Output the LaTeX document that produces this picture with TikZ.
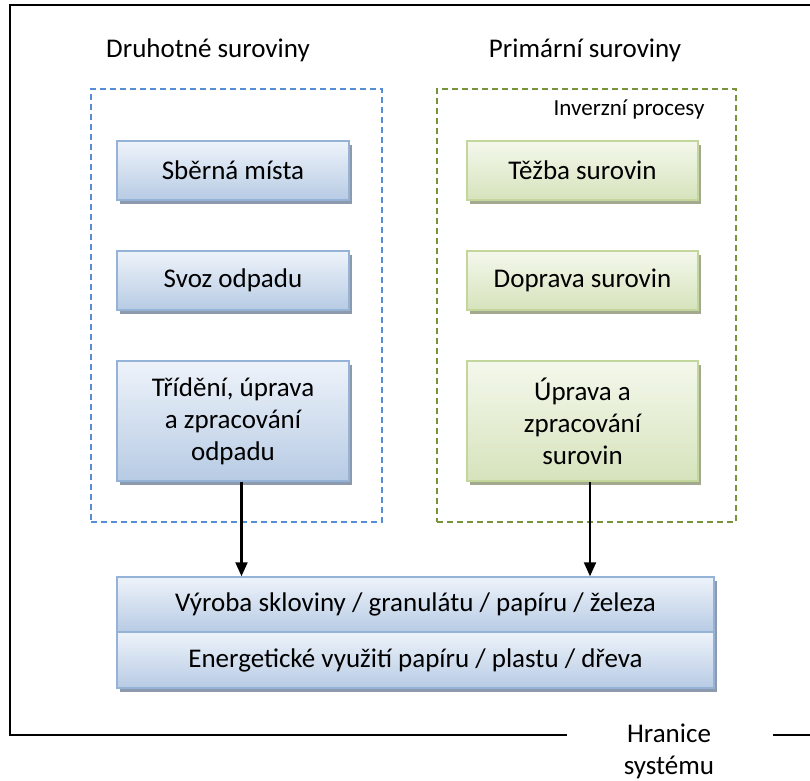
\documentclass[tikz,border=0pt]{standalone}
\usepackage{fontspec}
\setmainfont{Carlito}
\usetikzlibrary{arrows.meta,shadows}
\definecolor{bluetop}{HTML}{EEF3FA}
\definecolor{bluebot}{HTML}{B7CBE4}
\definecolor{blueedge}{HTML}{95B3D7}
\definecolor{blueshadow}{HTML}{8D9AAE}
\definecolor{greentop}{HTML}{F4F8EC}
\definecolor{greenbot}{HTML}{D6E3BC}
\definecolor{greenedge}{HTML}{C3D69B}
\definecolor{greenshadow}{HTML}{A2A98F}
\definecolor{bluedash}{HTML}{558ED5}
\definecolor{greendash}{HTML}{77933C}
\tikzset{
  bigtext/.style={font=\fontsize{27}{32}\selectfont, align=center},
  bluebox/.style={bigtext, draw=blueedge, line width=1.5pt, top color=bluetop, bottom color=bluebot,
    inner sep=0pt, drop shadow={shadow xshift=3pt, shadow yshift=-4pt, fill=blueshadow, opacity=1}},
  greenbox/.style={bigtext, draw=greenedge, line width=1.5pt, top color=greentop, bottom color=greenbot,
    inner sep=0pt, drop shadow={shadow xshift=3pt, shadow yshift=-4pt, fill=greenshadow, opacity=1}},
  bluegroup/.style={draw=bluedash, line width=1.3pt, dash pattern=on 6pt off 4pt, inner sep=0pt},
  greengroup/.style={draw=greendash, line width=1.3pt, dash pattern=on 6pt off 4pt, inner sep=0pt},
  arr/.style={line width=2.2pt, -{Triangle[width=12pt,length=14pt]}},
  border/.style={line width=1.8pt}
}
\begin{document}
\begin{tikzpicture}[x=1pt,y=-1pt]
\useasboundingbox (0,0) rectangle (810,780);
% outer system boundary
\coordinate (bl) at (10,735);
\coordinate (tl) at (10,5);
\coordinate (tr) at (812,5);
\coordinate (gapL) at (567,735);
\coordinate (gapR) at (773,735);
\coordinate (br) at (812,735);
\draw[border] (gapL) -- (bl) -- (tl) -- (tr);
\draw[border] (gapR) -- (br);
\node[bigtext, anchor=center] (hranice) at (669,751) {Hranice\\systému};

% group frames
\node[bluegroup, minimum width=291pt, minimum height=433pt] (gblue) at (236.5,305.5) {};
\node[greengroup, minimum width=299pt, minimum height=433pt] (ggreen) at (586.5,305.5) {};

% headers
\node[bigtext, anchor=base] (hdruh) at (208,57) {Druhotné suroviny};
\node[bigtext, anchor=base] (hprim) at (585,57) {Primární suroviny};
\node[font=\fontsize{23}{28}\selectfont, anchor=base east] (inv) at (708,115) {Inverzní procesy};

% blue boxes
\node[bluebox, minimum width=232pt, minimum height=59pt] (b1) at (233,170.5) {Sběrná místa};
\node[bluebox, minimum width=232pt, minimum height=59pt] (b2) at (233,280.5) {Svoz odpadu};
\node[bluebox, minimum width=232pt, minimum height=120pt] (b3) at (233,421) {Třídění, úprava\\a zpracování\\odpadu};

% green boxes
\node[greenbox, minimum width=231pt, minimum height=59pt] (g1) at (582.5,170.5) {Těžba surovin};
\node[greenbox, minimum width=231pt, minimum height=59pt] (g2) at (582.5,280.5) {Doprava surovin};
\node[greenbox, minimum width=231pt, minimum height=120pt] (g3) at (582.5,421) {Úprava a\\zpracování\\surovin};

% production boxes
\node[bluebox, minimum width=597pt, minimum height=55pt] (p1) at (415.5,604.5) {Výroba skloviny / granulátu / papíru / železa};
\node[bluebox, minimum width=597pt, minimum height=56pt] (p2) at (415.5,660) {Energetické využití papíru / plastu / dřeva};

% arrows
\draw[arr] ([xshift=8.5pt]b3.south) -- ([xshift=8.5pt]b3.south |- p1.north);
\draw[arr] ([xshift=7.5pt]g3.south) -- ([xshift=7.5pt]g3.south |- p1.north);
\end{tikzpicture}
\end{document}
